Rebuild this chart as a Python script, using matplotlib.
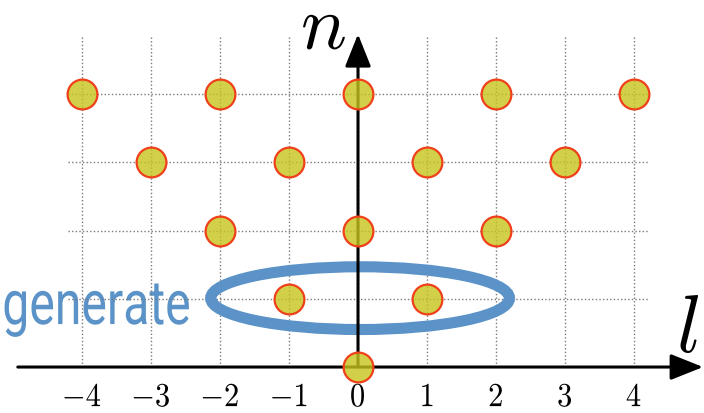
import matplotlib
matplotlib.use("Agg")
import matplotlib.pyplot as plt
from matplotlib.patches import Ellipse
from matplotlib.transforms import Affine2D
from matplotlib import patheffects

plt.rcParams["mathtext.fontset"] = "cm"

# allowed (l, n) states
point_l = [0, -1, 1, -2, 0, 2, -3, -1, 1, 3, -4, -2, 0, 2, 4]
point_n = [0, 1, 1, 2, 2, 2, 3, 3, 3, 3, 4, 4, 4, 4, 4]

tick_l = [-4, -3, -2, -1, 0, 1, 2, 3, 4]
grid_n = [1, 2, 3, 4]
label_text = "generate"


class Stretch(patheffects.AbstractPathEffect):
    """Scale glyph outlines about the text baseline origin."""

    def __init__(self, sx=1.0, sy=1.0):
        super().__init__()
        self.sx, self.sy = sx, sy

    def draw_path(self, renderer, gc, tpath, affine, rgbFace=None):
        renderer.draw_path(gc, tpath, Affine2D().scale(self.sx, self.sy) + affine, rgbFace)


fig = plt.figure(figsize=(7.04, 4.14), dpi=100)
ax = fig.add_axes([0, 0, 1, 1])
ax.set_xlim(-5.188, 5.014)
ax.set_ylim(-0.674, 5.396)
ax.axis("off")

# side label (sits under the grid)
ax.text(-5.155, 0.63, label_text, ha="left", va="baseline", fontsize=35,
        family="Roboto", color="#5b93c8", zorder=0.5,
        path_effects=[Stretch(0.99, 1.27)])

# dotted grid
grid_kw = dict(color="#7a7a7a", lw=1.0, linestyle=(0, (1, 1.6)), zorder=1)
for l in tick_l:
    ax.plot([l, l], [0, 4.84], **grid_kw)
for n in grid_n:
    ax.plot([-4.2, 4.2], [n, n], **grid_kw)

# highlight ring around the degenerate level
ax.add_patch(Ellipse((0.03, 1.01), width=4.33, height=0.92, fill=False,
                     lw=8, ec="#5b93c8", zorder=2))

# axes with arrows
arrow_kw = dict(arrowstyle="-|>,head_length=1.0,head_width=0.4", lw=2.2,
                color="black", mutation_scale=20, shrinkA=0, shrinkB=0)
ax.annotate("", xy=(5.0, 0), xytext=(-4.93, 0), arrowprops=arrow_kw, zorder=3)
ax.annotate("", xy=(0, 4.88), xytext=(0, 0), arrowprops=arrow_kw, zorder=3)

# states
ax.scatter(point_l, point_n, s=460, facecolor=(0.78, 0.77, 0.10, 0.8),
           edgecolor="#f0401a", linewidths=1.6, zorder=4)

# tick labels
for l in tick_l:
    ax.text(l, -0.575, rf"${l}$", ha="center", va="baseline", fontsize=22,
            zorder=5, path_effects=[Stretch(1.0, 1.1)])

# axis names
ax.text(-0.826, 4.66, r"$n$", ha="left", va="baseline", fontsize=40, zorder=5,
        path_effects=[Stretch(1.375, 1.375)])
ax.text(4.78, 0.56, r"$l$", ha="center", va="center", fontsize=58, zorder=5)

fig.savefig("out.png", dpi=100)
